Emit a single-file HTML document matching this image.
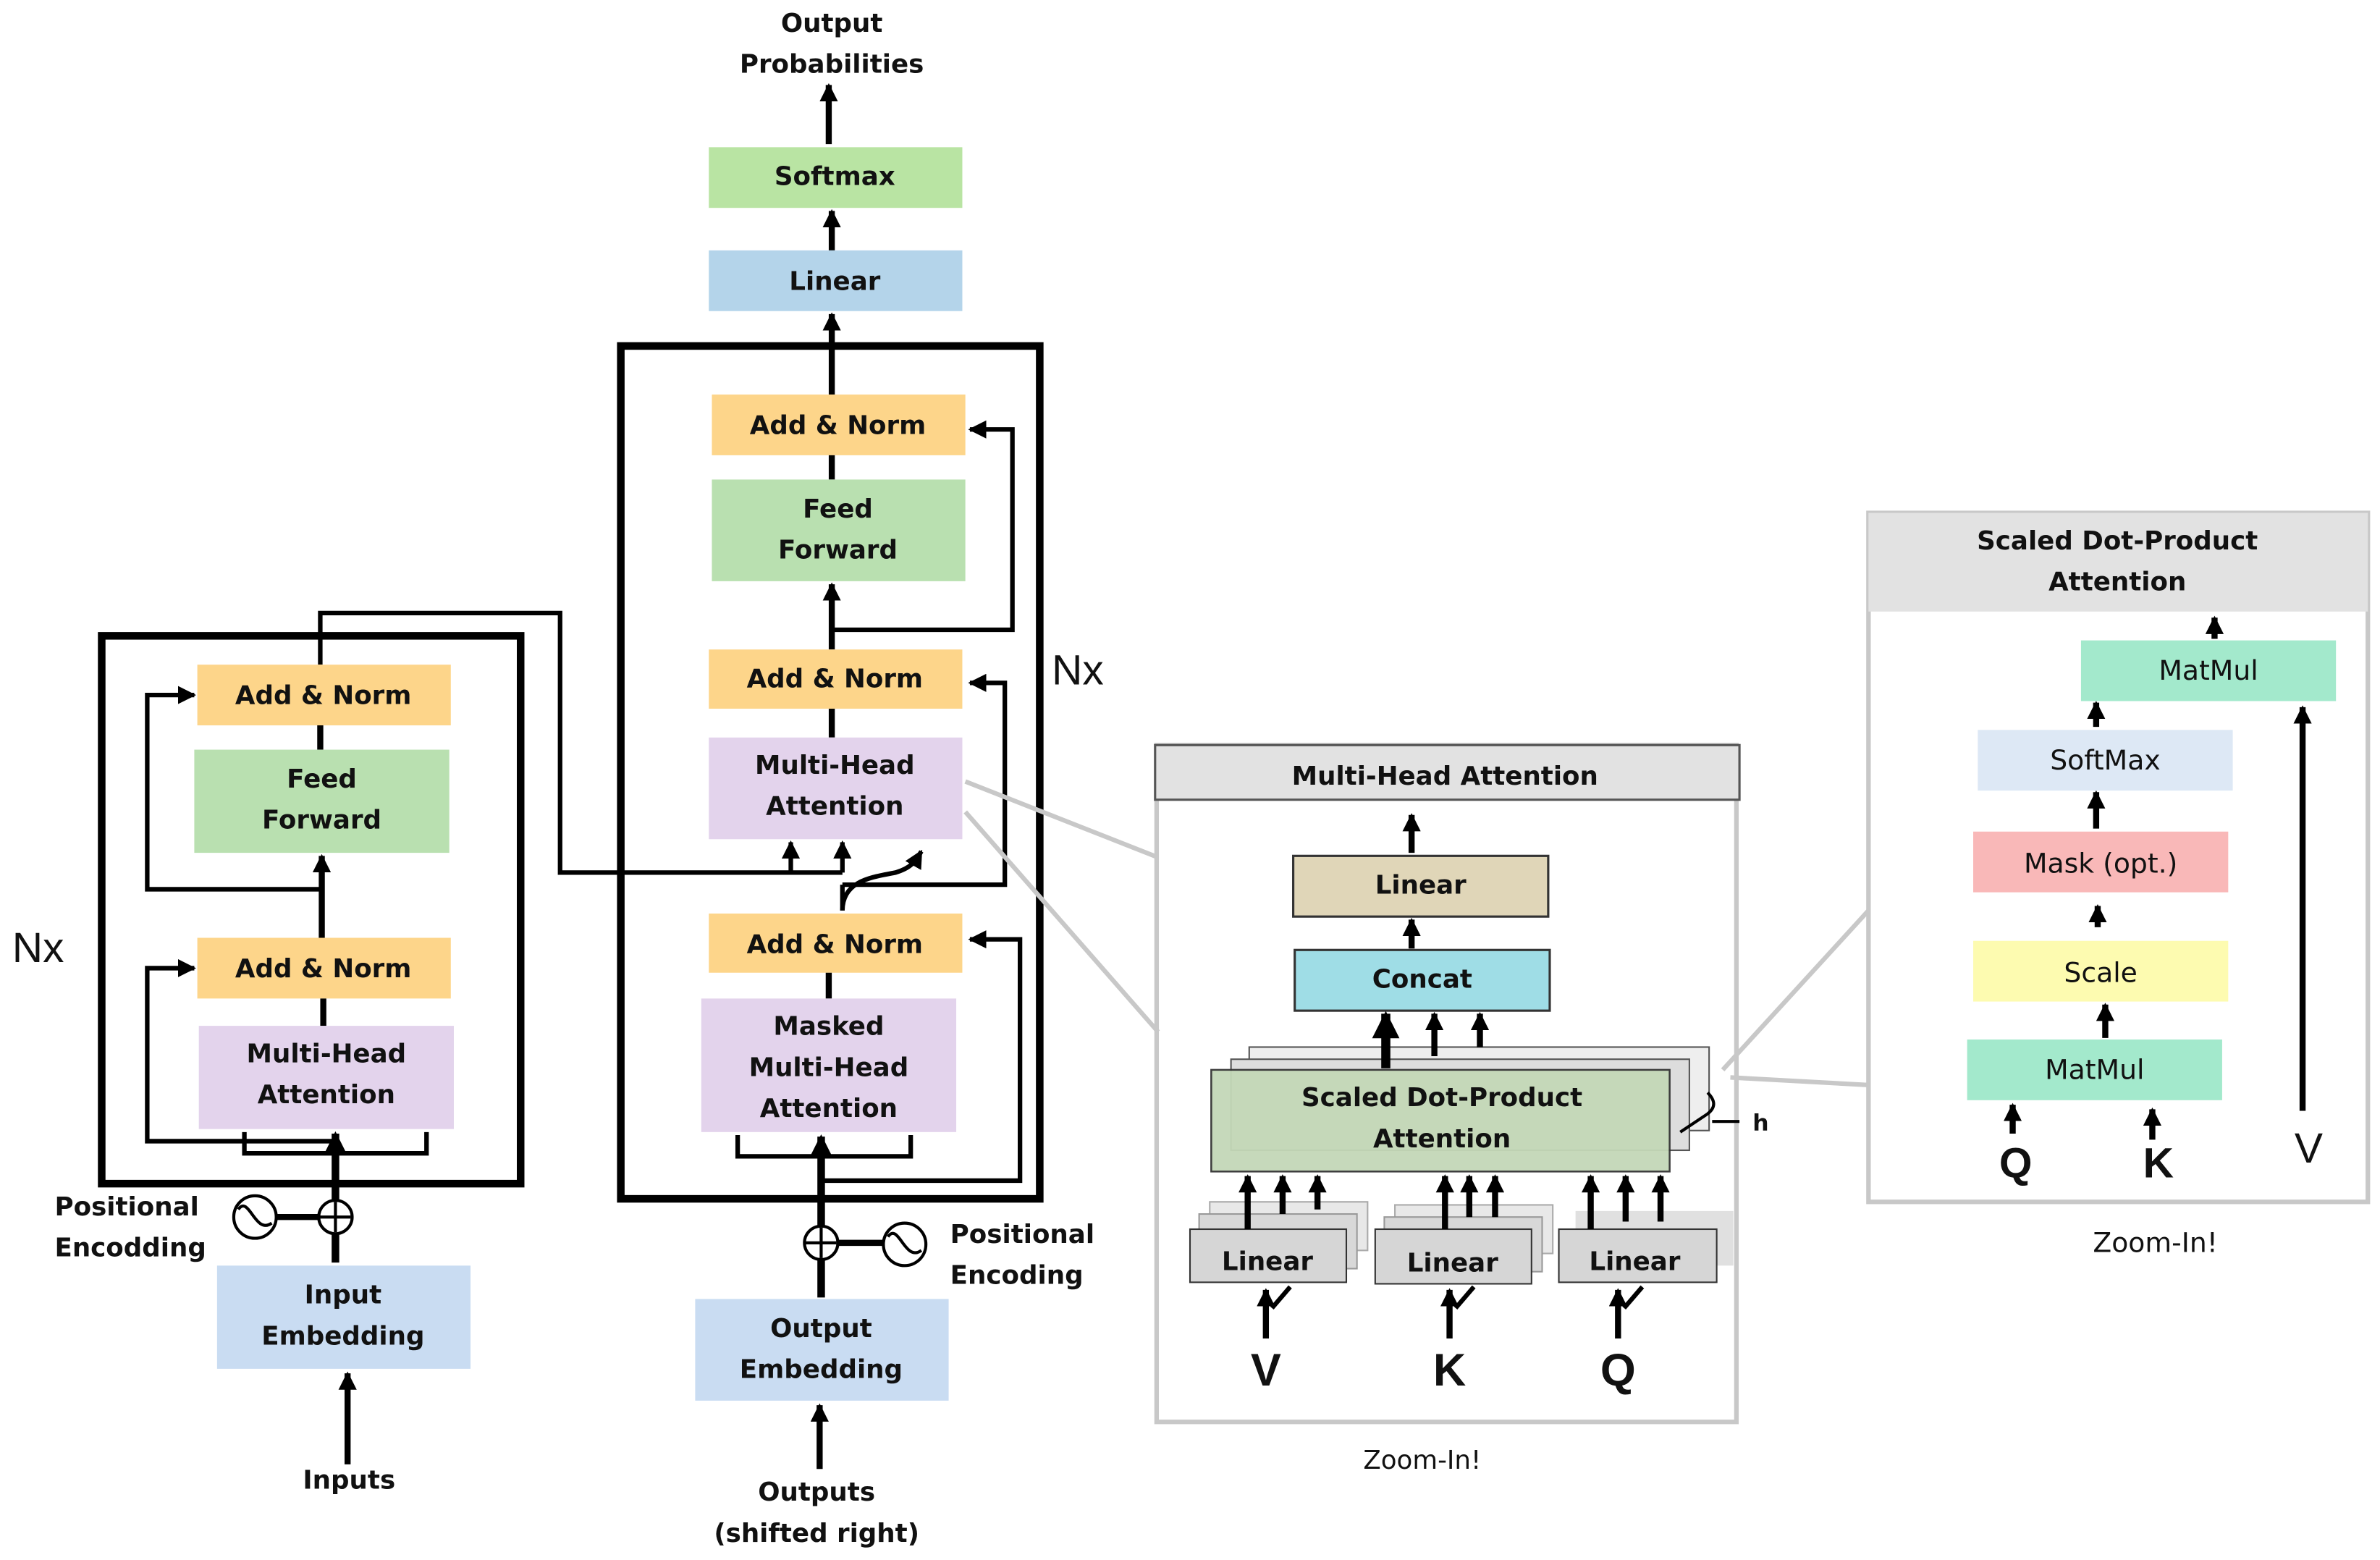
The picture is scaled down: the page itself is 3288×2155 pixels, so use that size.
<!DOCTYPE html>
<html><head><meta charset="utf-8"><style>html,body{margin:0;padding:0;background:#fff}svg{display:block}</style></head>
<body>
<svg width="3288" height="2155" viewBox="0 0 1568 1028" preserveAspectRatio="none" xmlns="http://www.w3.org/2000/svg" font-family="DejaVu Sans, Liberation Sans, sans-serif">
<defs>
<marker id="a" viewBox="0 0 10 10" refX="9" refY="5" markerWidth="3" markerHeight="3" orient="auto"><path d="M0,0L10,5L0,10z" fill="#000"/></marker>
<marker id="b" viewBox="0 0 10 10" refX="9" refY="5" markerWidth="4" markerHeight="4" orient="auto"><path d="M0,0L10,5L0,10z" fill="#000"/></marker>
</defs>
<rect width="1568" height="1028" fill="#fff"/>
<g font-weight="bold" font-size="17" text-anchor="middle" fill="#111">
<!-- top -->
<text x="548" y="21">Output</text><text x="548" y="48">Probabilities</text>
<line x1="546" y1="95" x2="546" y2="56" stroke="#000" stroke-width="4" marker-end="url(#a)"/>
<rect x="467" y="97" width="167" height="40" fill="#b9e4a3"/><text x="550" y="122">Softmax</text>
<line x1="548" y1="165" x2="548" y2="139" stroke="#000" stroke-width="4" marker-end="url(#a)"/>
<rect x="467" y="165" width="167" height="40" fill="#b4d4ea"/><text x="550" y="191">Linear</text>
<line x1="548" y1="260" x2="548" y2="207" stroke="#000" stroke-width="4" marker-end="url(#a)"/>
<!-- decoder -->
<rect x="409" y="228" width="276" height="562" fill="none" stroke="#000" stroke-width="5"/>
<rect x="469" y="260" width="167" height="40" fill="#fdd58a"/><text x="552" y="286">Add &amp; Norm</text>
<line x1="548" y1="300" x2="548" y2="316" stroke="#000" stroke-width="4"/>
<rect x="469" y="316" width="167" height="67" fill="#b9e0b0"/><text x="552" y="341">Feed</text><text x="552" y="368">Forward</text>
<line x1="548" y1="428" x2="548" y2="385" stroke="#000" stroke-width="4" marker-end="url(#a)"/>
<polyline points="548,415 667,415 667,283 639,283" fill="none" stroke="#000" stroke-width="3" marker-end="url(#b)"/>
<rect x="467" y="428" width="167" height="39" fill="#fdd58a"/><text x="550" y="453">Add &amp; Norm</text>
<line x1="548" y1="467" x2="548" y2="486" stroke="#000" stroke-width="4"/>
<rect x="467" y="486" width="167" height="67" fill="#e3d3ec"/><text x="550" y="510">Multi-Head</text><text x="550" y="537">Attention</text>
<polyline points="555,583 662,583 662,450 639,450" fill="none" stroke="#000" stroke-width="3" marker-end="url(#b)"/>
<path d="M555,600 C555,580 575,578 590,575 C600,572 603,568 607,561" fill="none" stroke="#000" stroke-width="3" marker-end="url(#b)"/>
<line x1="555" y1="600" x2="555" y2="583" stroke="#000" stroke-width="3"/>
<!-- enc-dec -->
<polyline points="211,438 211,404 369,404 369,575 555,575" fill="none" stroke="#000" stroke-width="3"/>
<line x1="521" y1="575" x2="521" y2="555" stroke="#000" stroke-width="3" marker-end="url(#b)"/>
<line x1="555" y1="575" x2="555" y2="555" stroke="#000" stroke-width="3" marker-end="url(#b)"/>
<rect x="467" y="602" width="167" height="39" fill="#fdd58a"/><text x="550" y="628">Add &amp; Norm</text>
<line x1="546" y1="641" x2="546" y2="658" stroke="#000" stroke-width="4"/>
<rect x="462" y="658" width="168" height="88" fill="#e3d3ec"/><text x="546" y="682">Masked</text><text x="546" y="709">Multi-Head</text><text x="546" y="736">Attention</text>
<polyline points="543,778 672,778 672,619 639,619" fill="none" stroke="#000" stroke-width="3" marker-end="url(#b)"/>
<polyline points="486,748 486,762 600,762 600,748" fill="none" stroke="#000" stroke-width="3"/>
<line x1="541" y1="855" x2="541" y2="749" stroke="#000" stroke-width="5" marker-end="url(#a)"/>
<circle cx="541" cy="819" r="11" fill="#fff" stroke="#000" stroke-width="2"/><path d="M531,819h20M541,809v20" stroke="#000" stroke-width="2"/>
<line x1="552" y1="819" x2="582" y2="819" stroke="#000" stroke-width="4"/>
<circle cx="596" cy="820" r="14" fill="#fff" stroke="#000" stroke-width="2"/><path d="M585,815 C592,805 596,832 607,824" fill="none" stroke="#000" stroke-width="2"/>
<text x="626" y="819" text-anchor="start">Positional</text><text x="626" y="846" text-anchor="start">Encoding</text>
<rect x="458" y="856" width="167" height="67" fill="#c9dcf2"/><text x="541" y="881">Output</text><text x="541" y="908">Embedding</text>
<line x1="540" y1="968" x2="540" y2="926" stroke="#000" stroke-width="4" marker-end="url(#a)"/>
<text x="538" y="989">Outputs</text><text x="538" y="1016">(shifted right)</text>
<text x="710" y="451" font-weight="normal" font-size="28" font-family="Liberation Sans, sans-serif">Nx</text>
<!-- encoder -->
<rect x="67" y="419" width="276" height="361" fill="none" stroke="#000" stroke-width="5"/>
<rect x="130" y="438" width="167" height="40" fill="#fdd58a"/><text x="213" y="464">Add &amp; Norm</text>
<line x1="211" y1="478" x2="211" y2="494" stroke="#000" stroke-width="4"/>
<rect x="128" y="494" width="168" height="68" fill="#b9e0b0"/><text x="212" y="519">Feed</text><text x="212" y="546">Forward</text>
<line x1="212" y1="618" x2="212" y2="564" stroke="#000" stroke-width="4" marker-end="url(#a)"/>
<polyline points="212,586 97,586 97,458 128,458" fill="none" stroke="#000" stroke-width="3" marker-end="url(#b)"/>
<rect x="130" y="618" width="167" height="40" fill="#fdd58a"/><text x="213" y="644">Add &amp; Norm</text>
<line x1="213" y1="658" x2="213" y2="676" stroke="#000" stroke-width="4"/>
<rect x="131" y="676" width="168" height="68" fill="#e3d3ec"/><text x="215" y="700">Multi-Head</text><text x="215" y="727">Attention</text>
<polyline points="221,752 97,752 97,638 128,638" fill="none" stroke="#000" stroke-width="3" marker-end="url(#b)"/>
<polyline points="161,746 161,760 281,760 281,746" fill="none" stroke="#000" stroke-width="3"/>
<line x1="221" y1="832" x2="221" y2="747" stroke="#000" stroke-width="5" marker-end="url(#a)"/>
<circle cx="221" cy="802" r="11" fill="#fff" stroke="#000" stroke-width="2"/><path d="M211,802h20M221,792v20" stroke="#000" stroke-width="2"/>
<line x1="182" y1="802" x2="210" y2="802" stroke="#000" stroke-width="4"/>
<circle cx="168" cy="802" r="14" fill="#fff" stroke="#000" stroke-width="2"/><path d="M157,797 C164,787 168,814 179,806" fill="none" stroke="#000" stroke-width="2"/>
<text x="36" y="801" text-anchor="start">Positional</text><text x="36" y="828" text-anchor="start">Encodding</text>
<rect x="143" y="834" width="167" height="68" fill="#c9dcf2"/><text x="226" y="859">Input</text><text x="226" y="886">Embedding</text>
<line x1="229" y1="965" x2="229" y2="905" stroke="#000" stroke-width="4" marker-end="url(#a)"/>
<text x="230" y="981">Inputs</text>
<text x="8" y="634" font-weight="normal" font-size="28" text-anchor="start" font-family="Liberation Sans, sans-serif">Nx</text>
<!-- callouts -->
<g stroke="#c8c8c8" stroke-width="3" fill="none">
<line x1="636" y1="515" x2="763" y2="565"/><line x1="636" y1="535" x2="763" y2="680"/>
<line x1="1135" y1="705" x2="1231" y2="600"/><line x1="1140" y1="710" x2="1231" y2="715"/>
<rect x="762" y="491" width="382" height="446"/>
<rect x="1231" y="338" width="329" height="454"/>
</g>
<!-- MHA panel -->
<rect x="761" y="491" width="385" height="36" fill="#e2e2e2" stroke="#555" stroke-width="1.5"/><text x="952" y="517">Multi-Head Attention</text>
<line x1="930" y1="562" x2="930" y2="537" stroke="#000" stroke-width="4" marker-end="url(#a)"/>
<rect x="852" y="564" width="168" height="40" fill="#e0d6b8" stroke="#333" stroke-width="1.5"/><text x="936" y="589">Linear</text>
<line x1="930" y1="625" x2="930" y2="606" stroke="#000" stroke-width="4" marker-end="url(#a)"/>
<rect x="853" y="626" width="168" height="40" fill="#9fdde6" stroke="#333" stroke-width="1.5"/><text x="937" y="651">Concat</text>
<rect x="823" y="690" width="303" height="55" fill="#eee" stroke="#555" stroke-width="1"/>
<rect x="811" y="698" width="302" height="60" fill="#ddd" stroke="#555" stroke-width="1"/>
<rect x="798" y="705" width="302" height="67" fill="#c4d8b8" stroke="#333" stroke-width="1.2" opacity="0.95"/>
<text x="950" y="729">Scaled Dot-Product</text><text x="950" y="756">Attention</text>
<line x1="913" y1="704" x2="913" y2="668" stroke="#000" stroke-width="6" marker-end="url(#a)"/>
<line x1="945" y1="696" x2="945" y2="668" stroke="#000" stroke-width="4" marker-end="url(#a)"/>
<line x1="975" y1="690" x2="975" y2="668" stroke="#000" stroke-width="4" marker-end="url(#a)"/>
<path d="M1125,720 q8,8 0,14 l-18,12" fill="none" stroke="#000" stroke-width="2"/><line x1="1128" y1="739" x2="1146" y2="739" stroke="#000" stroke-width="2"/>
<text x="1160" y="745" font-size="15">h</text>
<g fill="#ddd" stroke="#666" stroke-width="1">
<rect x="797" y="792" width="104" height="32" fill="#e8e8e8" stroke="#aaa"/><rect x="790" y="800" width="104" height="36" fill="#d8d8d8" stroke="#999"/>
<rect x="919" y="794" width="104" height="32" fill="#e8e8e8" stroke="#aaa"/><rect x="912" y="802" width="104" height="36" fill="#d8d8d8" stroke="#999"/>
<rect x="1038" y="798" width="104" height="36" fill="#e0e0e0" stroke="none"/>
<rect x="784" y="810" width="103" height="35" fill="#d6d6d6" stroke="#333"/>
<rect x="906" y="810" width="103" height="36" fill="#d6d6d6" stroke="#333"/>
<rect x="1027" y="810" width="104" height="35" fill="#d6d6d6" stroke="#333"/>
</g>
<text x="835" y="837">Linear</text><text x="957" y="838">Linear</text><text x="1077" y="837">Linear</text>
<g stroke="#000" stroke-width="4">
<line x1="822" y1="810" x2="822" y2="775" marker-end="url(#a)"/><line x1="845" y1="800" x2="845" y2="775" marker-end="url(#a)"/><line x1="868" y1="797" x2="868" y2="775" marker-end="url(#a)"/>
<line x1="952" y1="810" x2="952" y2="775" marker-end="url(#a)"/><line x1="968" y1="802" x2="968" y2="775" marker-end="url(#a)"/><line x1="985" y1="802" x2="985" y2="775" marker-end="url(#a)"/>
<line x1="1048" y1="810" x2="1048" y2="775" marker-end="url(#a)"/><line x1="1071" y1="805" x2="1071" y2="775" marker-end="url(#a)"/><line x1="1094" y1="805" x2="1094" y2="775" marker-end="url(#a)"/>
<line x1="834" y1="882" x2="834" y2="850" marker-end="url(#a)"/><line x1="838" y1="862" x2="850" y2="848" stroke-width="3"/>
<line x1="955" y1="882" x2="955" y2="850" marker-end="url(#a)"/><line x1="959" y1="862" x2="971" y2="848" stroke-width="3"/>
<line x1="1066" y1="882" x2="1066" y2="850" marker-end="url(#a)"/><line x1="1070" y1="862" x2="1082" y2="848" stroke-width="3"/>
</g>
<g font-family="Liberation Sans, sans-serif">
<text x="834" y="913" font-size="30">V</text><text x="955" y="913" font-size="30">K</text><text x="1066" y="913" font-size="30">Q</text>
</g>
<text x="937" y="968" font-weight="normal">Zoom-In!</text>
<!-- SDPA panel -->
<rect x="1231" y="338" width="329" height="65" fill="#e2e2e2"/>
<text x="1395" y="362">Scaled Dot-Product</text><text x="1395" y="389">Attention</text>
<g font-weight="normal" font-size="18">
<line x1="1459" y1="421" x2="1459" y2="407" stroke="#000" stroke-width="4" marker-end="url(#a)"/>
<rect x="1371" y="422" width="168" height="40" fill="#a3e9cc"/><text x="1455" y="448">MatMul</text>
<line x1="1381" y1="479" x2="1381" y2="463" stroke="#000" stroke-width="4" marker-end="url(#a)"/>
<rect x="1303" y="481" width="168" height="40" fill="#dde8f5"/><text x="1387" y="507">SoftMax</text>
<line x1="1381" y1="546" x2="1381" y2="522" stroke="#000" stroke-width="4" marker-end="url(#a)"/>
<rect x="1300" y="548" width="168" height="40" fill="#f9b8b8"/><text x="1384" y="575">Mask (opt.)</text>
<line x1="1382" y1="611" x2="1382" y2="597" stroke="#000" stroke-width="4" marker-end="url(#a)"/>
<rect x="1300" y="620" width="168" height="40" fill="#fdfbb0"/><text x="1384" y="647">Scale</text>
<line x1="1387" y1="684" x2="1387" y2="662" stroke="#000" stroke-width="4" marker-end="url(#a)"/>
<rect x="1296" y="685" width="168" height="40" fill="#a3e9cc"/><text x="1380" y="711">MatMul</text>
<line x1="1326" y1="747" x2="1326" y2="728" stroke="#000" stroke-width="4" marker-end="url(#a)"/>
<line x1="1418" y1="751" x2="1418" y2="731" stroke="#000" stroke-width="4" marker-end="url(#a)"/>
<line x1="1517" y1="732" x2="1517" y2="466" stroke="#000" stroke-width="4" marker-end="url(#a)"/>
<g font-family="Liberation Sans, sans-serif">
<text x="1328" y="776" font-weight="bold" font-size="28">Q</text><text x="1422" y="776" font-weight="bold" font-size="28">K</text>
<text x="1521" y="766" font-size="28">V</text>
</g>
<text x="1420" y="825">Zoom-In!</text>
</g>
</g>
</svg>
</body></html>
